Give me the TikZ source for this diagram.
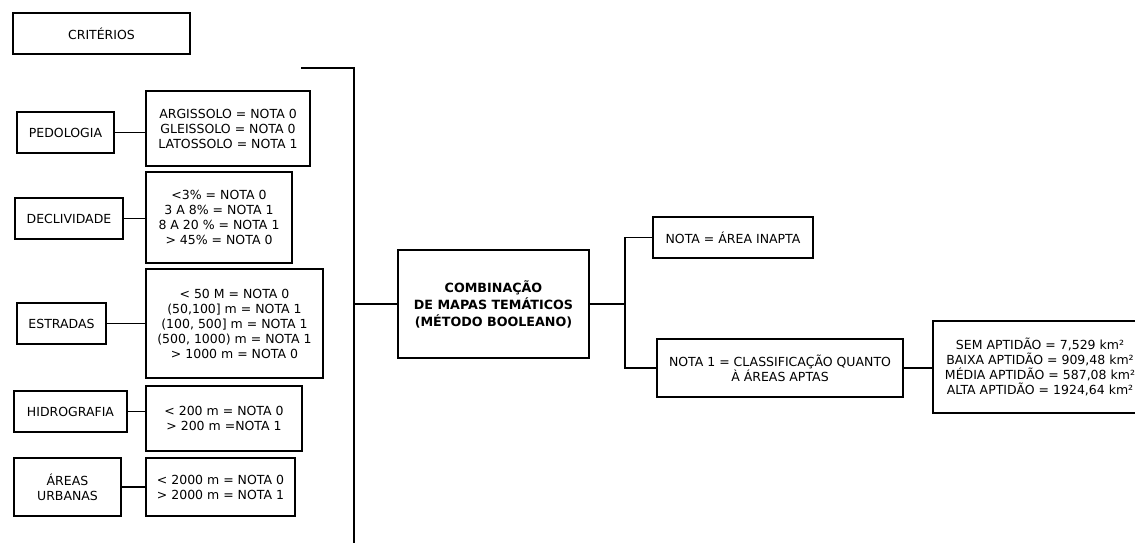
\documentclass[tikz,border=0pt]{standalone}
\usepackage{fontspec}
\setmainfont{DejaVu Sans}

\begin{document}
\begin{tikzpicture}[x=1pt, y=-1pt,
    caixa/.style={draw, line width=1.6pt, align=center, inner sep=0pt,
        font=\fontsize{12.5}{15}\selectfont},
    liga/.style={line width=1.6pt}]
    \clip (0,0) rectangle (1135,542);

    % Critérios
    \node[caixa, minimum width=177, minimum height=41] (criterios) at (101.5,33.5) {CRITÉRIOS};

    \node[caixa, minimum width=97, minimum height=41] (pedologia) at (65.5,132.5) {PEDOLOGIA};
    \node[caixa, minimum width=164, minimum height=75] (pedv) at (228,128.5) {ARGISSOLO = NOTA 0\\ GLEISSOLO = NOTA 0\\ LATOSSOLO = NOTA 1};

    \node[caixa, minimum width=108, minimum height=41] (declividade) at (69,218.5) {DECLIVIDADE};
    \node[caixa, minimum width=146, minimum height=91] (declv) at (219,217.5) {<3\% = NOTA 0\\ 3 A 8\% = NOTA 1\\ 8 A 20 \% = NOTA 1\\ > 45\% = NOTA 0};

    \node[caixa, minimum width=89, minimum height=41] (estradas) at (61.5,323.5) {ESTRADAS};
    \node[caixa, minimum width=177, minimum height=109] (estv) at (234.5,323.5) {< 50 M = NOTA 0\\ (50,100] m = NOTA 1\\ (100, 500] m = NOTA 1\\ (500, 1000) m = NOTA 1\\ > 1000 m = NOTA 0};

    \node[caixa, minimum width=113, minimum height=41] (hidrografia) at (70.5,411.5) {HIDROGRAFIA};
    \node[caixa, minimum width=156, minimum height=65] (hidv) at (224,418.5) {< 200 m = NOTA 0\\ > 200 m =NOTA 1};

    \node[caixa, minimum width=107, minimum height=58] (urbanas) at (67.5,487) {ÁREAS\\ URBANAS};
    \node[caixa, minimum width=149, minimum height=58] (urbv) at (220.5,487) {< 2000 m = NOTA 0\\ > 2000 m = NOTA 1};

    \draw[liga] (pedologia.east) -- (pedologia.east -| pedv.west);
    \draw[liga] (declividade.east) -- (declividade.east -| declv.west);
    \draw[liga] (estradas.east) -- (estradas.east -| estv.west);
    \draw[liga] (hidrografia.east) -- (hidrografia.east -| hidv.west);
    \draw[liga] (urbanas.east) -- (urbanas.east -| urbv.west);

    % Combinação
    \coordinate (topo) at (301,68);
    \coordinate (base) at (354,545);
    \draw[liga] (topo) -| (base);

    \node[caixa, minimum width=191, minimum height=108, font=\fontsize{12.7}{17}\selectfont\bfseries] (comb) at (493.5,304) {COMBINAÇÃO\\ DE MAPAS TEMÁTICOS\\ (MÉTODO BOOLEANO)};
    \draw[liga] (base |- comb) -- (comb.west);

    % Resultados
    \node[caixa, minimum width=160, minimum height=41] (inapta) at (733,237.5) {NOTA = ÁREA INAPTA};
    \node[caixa, minimum width=246, minimum height=58] (apta) at (780,368) {NOTA 1 = CLASSIFICAÇÃO QUANTO\\ À ÁREAS APTAS};
    \node[caixa, minimum width=214, minimum height=92] (result) at (1040,367) {SEM APTIDÃO = 7,529 km²\\ BAIXA APTIDÃO = 909,48 km²\\ MÉDIA APTIDÃO = 587,08 km²\\ ALTA APTIDÃO = 1924,64 km²};

    \coordinate (ramo) at (625,304);
    \draw[liga] (comb.east) -- (ramo);
    \draw[liga] (inapta.west) -| (ramo |- apta) -- (apta.west);
    \draw[liga] (apta.east) -- (apta.east -| result.west);
\end{tikzpicture}
\end{document}
